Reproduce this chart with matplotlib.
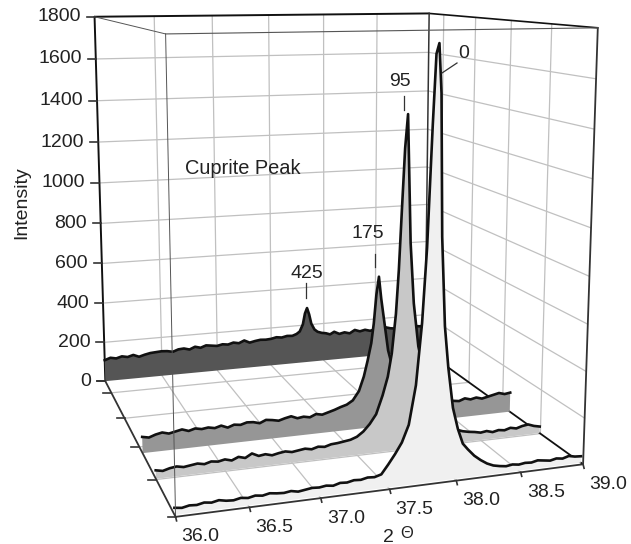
"""XRD cuprite peak waterfall, drawn as a 3D box by projecting through a fitted camera."""
import matplotlib
matplotlib.use("Agg")
import matplotlib.pyplot as plt
import numpy as np

plt.rcParams.update({"font.family": ["Liberation Sans", "DejaVu Sans"], "font.size": 14})

INK, GRID, EDGE = "#111111", "#c0c0c0", "#555555"

theta = [36.00, 36.05, 36.10, 36.15, 36.20, 36.25, 36.30, 36.35, 36.40, 36.45,
         36.50, 36.55, 36.60, 36.65, 36.70, 36.75, 36.80, 36.85, 36.90, 36.95,
         37.00, 37.05, 37.10, 37.15, 37.20, 37.25, 37.30, 37.35, 37.40, 37.45,
         37.50, 37.55, 37.60, 37.65, 37.70,
         37.74, 37.77, 37.80, 37.82, 37.84, 37.86, 37.88, 37.91, 37.94, 37.98,
         38.02, 38.06, 38.10, 38.15, 38.20, 38.25, 38.30, 38.35, 38.40, 38.45,
         38.50, 38.55, 38.60, 38.65, 38.70, 38.75, 38.80, 38.85, 38.90, 38.95,
         39.00]

i_425 = [108, 118, 112, 120, 114, 122, 110, 118, 124, 126,
         128, 126, 120, 130, 132, 124, 136, 128, 138, 134,
         130, 136, 132, 140, 134, 146, 132, 138, 142, 140,
         142, 148, 144, 150, 148,
         156, 168, 205, 262, 290, 255, 205, 172, 158, 150,
         146, 138, 150, 136, 142, 134, 150, 140, 146, 138,
         144, 136, 150, 142, 138, 146, 140, 148, 142, 138,
         144]
i_175 = [72, 66, 76, 82, 74, 80, 86, 76, 84, 78,
         82, 76, 84, 72, 82, 78, 86, 84, 76, 88,
         84, 78, 86, 92, 80, 84, 78, 90, 84, 92,
         100, 110, 118, 135, 175,
         240, 310, 390, 480, 610, 690, 590, 470, 350, 265,
         205, 170, 145, 122, 105, 98, 92, 88, 84, 90,
         82, 78, 88, 80, 86, 78, 84, 90, 96, 88,
         92]
i_95 = [36, 30, 38, 42, 36, 40, 44, 38, 46, 42,
        48, 40, 52, 44, 60, 46, 50, 42, 48, 52,
        46, 50, 54, 48, 56, 52, 60, 62, 66, 70,
        80, 100, 130, 170, 250,
        330, 430, 600, 790, 1050, 1300, 1440, 900, 640, 450,
        350, 270, 210, 150, 110, 80, 60, 50, 44, 40,
        34, 38, 30, 36, 32, 40, 34, 42, 46, 36,
        30]
i_0 = [28, 24, 30, 28, 34, 30, 36, 30, 28, 34,
       30, 36, 32, 38, 34, 32, 36, 30, 34, 38,
       36, 40, 36, 44, 42, 48, 46, 52, 50, 58,
       95, 135, 180, 250, 410,
       660, 960, 1440, 1710, 1750, 1560, 1000, 640, 470, 300,
       210, 145, 118, 88, 66, 48, 36, 30, 26, 30,
       26, 30, 28, 34, 30, 26, 32, 28, 36, 30,
       28]

series = [(450, i_425, "#555555"), (180, i_175, "#969696"), (102, i_95, "#c8c8c8"), (5, i_0, "#f0f0f0")]

z_ticks = [0, 200, 400, 600, 800, 1000, 1200, 1400, 1600, 1800]
t_ticks = [36.0, 36.5, 37.0, 37.5, 38.0, 38.5, 39.0]
d_ticks = [0, 100, 200, 300, 400, 450]

# box corners (theta, depth, intensity) and where they land on the page
corner_w = [(36, 0, 0), (39, 0, 0), (36, 450, 0), (39, 450, 0),
            (36, 450, 1800), (39, 450, 1800), (36, 0, 1800), (39, 0, 1800)]
corner_p = [(176, 518), (583, 463), (105, 380), (425, 352),
            (95, 17), (429, 13), (165, 34), (598, 28)]


def fit_camera():
    A, b = [], []
    for (t, d, z), (u, v) in zip(corner_w, corner_p):
        X = [(t - 36) / 3, d / 450, z / 1800, 1]
        A.append(X + [0, 0, 0, 0] + [-u * c for c in X[:3]]); b.append(u)
        A.append([0, 0, 0, 0] + X + [-v * c for c in X[:3]]); b.append(v)
    m = np.linalg.lstsq(np.array(A, float), np.array(b, float), rcond=None)[0]
    return np.append(m, 1).reshape(3, 4)


CAM = fit_camera()


def proj(t, d, z):
    t, d, z = np.broadcast_arrays(np.asarray(t, float), np.asarray(d, float), np.asarray(z, float))
    X = np.stack([(t - 36) / 3, d / 450, z / 1800, np.ones_like(t)])
    u, v, w = CAM @ X
    return u / w, v / w


fig = plt.figure(figsize=(6.31, 5.44), dpi=100)
ax = fig.add_axes([0, 0, 1, 1])
ax.set_xlim(0, 631); ax.set_ylim(544, 0); ax.axis("off")


def seg(a, b, color=GRID, lw=0.9, zo=1):
    pa, pb = proj(*a), proj(*b)
    ax.plot([pa[0], pb[0]], [pa[1], pb[1]], color=color, lw=lw, zorder=zo, solid_capstyle="round")


# walls and floor grid
for z in z_ticks[1:-1]:
    seg((36, 450, z), (39, 450, z))
    seg((39, 450, z), (39, 0, z))
for t in t_ticks[1:-1]:
    seg((t, 450, 0), (t, 450, 1800))
    seg((t, 0, 0), (t, 450, 0))
for d in d_ticks[1:-1]:
    seg((39, d, 0), (39, d, 1800))
    seg((36, d, 0), (39, d, 0))

# box edges behind the traces
seg((36, 450, 0), (36, 450, 1800), INK, 1.4, 2)
seg((36, 450, 1800), (39, 450, 1800), INK, 1.4, 2)
seg((39, 450, 1800), (39, 0, 1800), INK, 1.2, 2)
seg((39, 450, 0), (39, 450, 1800), "#333333", 1.1, 2)
seg((39, 450, 0), (39, 0, 0), INK, 1.3, 2)
seg((39, 0, 0), (39, 0, 1800), "#333333", 1.3, 2)
seg((36, 450, 0), (36, 0, 0), "#333333", 1.3, 6)
seg((36, 450, 1800), (36, 0, 1800), EDGE, 0.7, 2)
seg((36, 0, 1800), (39, 0, 1800), EDGE, 0.8, 2)

# traces, back to front
for k, (d, vals, fc) in enumerate(series):
    xs, ys = proj(theta, d, vals)
    bx, by = proj(theta, d, 0)
    ax.fill(np.r_[xs, bx[::-1]], np.r_[ys, by[::-1]], facecolor=fc, edgecolor="none", zorder=3 + k * 0.1)
    ax.plot(xs, ys, color=INK, lw=1.9, zorder=3.05 + k * 0.1, solid_joinstyle="round")

# front edges sit on top of the fills
seg((36, 0, 0), (36, 0, 1800), EDGE, 0.7, 5)
seg((36, 0, 0), (39, 0, 0), "#333333", 1.3, 6)

# ticks and tick labels
for z in z_ticks:
    u, v = proj(36, 450, z)
    ax.plot([u - 8, u], [v, v], color="#333333", lw=1.2, zorder=6)
    ax.text(u - 14, v, str(z), ha="right", va="center", color="#222222")
for t in t_ticks:
    u, v = proj(t, 0, 0)
    ax.plot([u, u + 1], [v, v + 4], color="#333333", lw=1.2, zorder=6)
    ax.text(u + 25, v + 20, f"{t:.1f}", ha="center", va="center", color="#222222")
for d in d_ticks:
    u, v = proj(36, d, 0)
    ax.plot([u - 8, u], [v, v], color="#333333", lw=1.2, zorder=6)

ax.text(22, 203, "Intensity", rotation=90, ha="center", va="center", fontsize=14, color="#222222")
ax.text(388, 537, "2", ha="center", va="center", fontsize=14, color="#222222")
ax.text(407, 533, "\u0398", ha="center", va="center", fontsize=12, color="#222222")
ax.text(243, 168, "Cuprite Peak", ha="center", va="center", fontsize=14.4, color="#222222")

# peak callouts
for lab, tx, ty, x1, y1, x2, y2 in [("425", 307, 274, 306, 283, 306, 298),
                                    ("175", 368, 233, 375, 254, 375, 267),
                                    ("95", 400, 81, 404, 96, 404, 110),
                                    ("0", 464, 54, 457, 63, 442, 73)]:
    ax.text(tx, ty, lab, ha="center", va="center", color="#222222", zorder=8)
    ax.plot([x1, x2], [y1, y2], color="#333333", lw=0.9, zorder=8)

fig.savefig("out.png", dpi=100)
plt.close(fig)
